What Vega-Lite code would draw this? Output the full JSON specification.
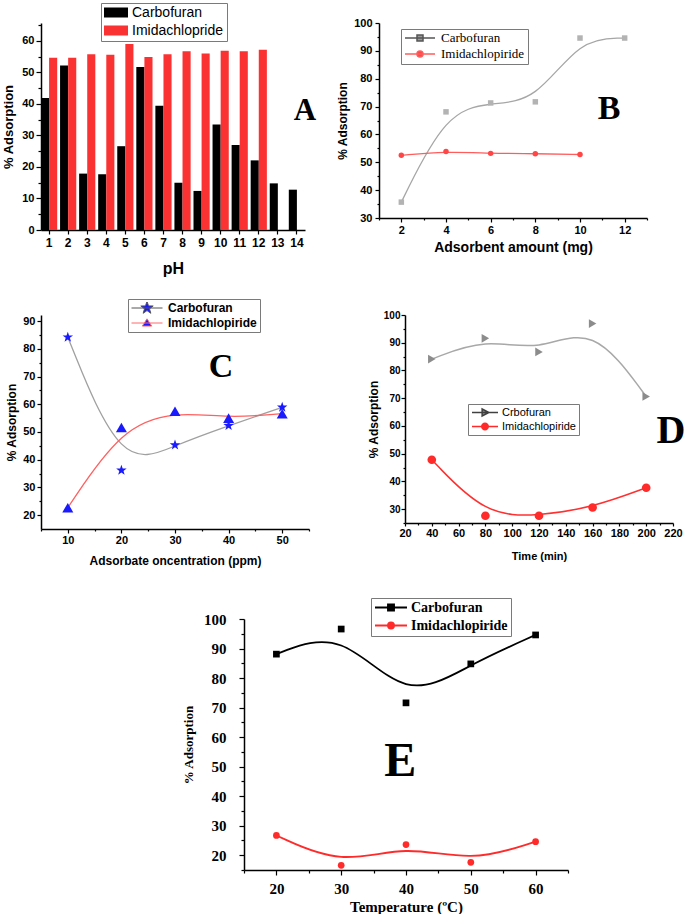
{
  "$schema": "https://vega.github.io/schema/vega-lite/v6.json",
  "background": "white",
  "padding": {"left": 2, "top": 2, "right": 0, "bottom": 0},
  "config": {
    "view": {"stroke": null},
    "font": "Liberation Sans",
    "axis": {"grid": false, "domainColor": "#000000", "domainWidth": 1.5, "tickColor": "#000000", "tickWidth": 1.2, "labelColor": "#000000", "titleColor": "#000000", "labelFont": "Liberation Sans", "titleFont": "Liberation Sans", "labelFontWeight": "bold", "titleFontWeight": "bold", "labelFlush": false, "labelOverlap": false},
    "legend": {"strokeColor": "#7a7a7a", "fillColor": "#ffffff", "padding": 3, "labelColor": "#000000", "labelLimit": 0}
  },
  "datasets": {
    "a": [
      {"pH": 1, "series": "Carbofuran", "value": 41.9}, {"pH": 1, "series": "Imidachlopride", "value": 54.7},
      {"pH": 2, "series": "Carbofuran", "value": 52.2}, {"pH": 2, "series": "Imidachlopride", "value": 54.7},
      {"pH": 3, "series": "Carbofuran", "value": 17.9}, {"pH": 3, "series": "Imidachlopride", "value": 55.8},
      {"pH": 4, "series": "Carbofuran", "value": 17.7}, {"pH": 4, "series": "Imidachlopride", "value": 55.6},
      {"pH": 5, "series": "Carbofuran", "value": 26.6}, {"pH": 5, "series": "Imidachlopride", "value": 59.0},
      {"pH": 6, "series": "Carbofuran", "value": 51.7}, {"pH": 6, "series": "Imidachlopride", "value": 54.9},
      {"pH": 7, "series": "Carbofuran", "value": 39.4}, {"pH": 7, "series": "Imidachlopride", "value": 55.8},
      {"pH": 8, "series": "Carbofuran", "value": 15.0}, {"pH": 8, "series": "Imidachlopride", "value": 56.7},
      {"pH": 9, "series": "Carbofuran", "value": 12.4}, {"pH": 9, "series": "Imidachlopride", "value": 56.0},
      {"pH": 10, "series": "Carbofuran", "value": 33.5}, {"pH": 10, "series": "Imidachlopride", "value": 56.9},
      {"pH": 11, "series": "Carbofuran", "value": 27.0}, {"pH": 11, "series": "Imidachlopride", "value": 56.7},
      {"pH": 12, "series": "Carbofuran", "value": 22.1}, {"pH": 12, "series": "Imidachlopride", "value": 57.2},
      {"pH": 13, "series": "Carbofuran", "value": 14.8},
      {"pH": 14, "series": "Carbofuran", "value": 12.8}
    ],
    "b": [
      {"x": 2, "series": "Carbofuran", "y": 35.7}, {"x": 4, "series": "Carbofuran", "y": 68.1},
      {"x": 6, "series": "Carbofuran", "y": 71.3}, {"x": 8, "series": "Carbofuran", "y": 71.7},
      {"x": 10, "series": "Carbofuran", "y": 94.6}, {"x": 12, "series": "Carbofuran", "y": 94.6},
      {"x": 2, "series": "Imidachlopiride", "y": 52.5}, {"x": 4, "series": "Imidachlopiride", "y": 53.9},
      {"x": 6, "series": "Imidachlopiride", "y": 53.2}, {"x": 8, "series": "Imidachlopiride", "y": 53.1},
      {"x": 10, "series": "Imidachlopiride", "y": 52.8}
    ],
    "c": [
      {"x": 10, "series": "Carbofuran", "y": 84.2}, {"x": 20, "series": "Carbofuran", "y": 36.2},
      {"x": 30, "series": "Carbofuran", "y": 45.3}, {"x": 40, "series": "Carbofuran", "y": 52.3},
      {"x": 50, "series": "Carbofuran", "y": 58.9},
      {"x": 10, "series": "Imidachlopiride", "y": 22.7}, {"x": 20, "series": "Imidachlopiride", "y": 51.6},
      {"x": 30, "series": "Imidachlopiride", "y": 57.5}, {"x": 40, "series": "Imidachlopiride", "y": 55.0},
      {"x": 50, "series": "Imidachlopiride", "y": 56.6}
    ],
    "d": [
      {"x": 40, "series": "Crbofuran", "y": 84.1}, {"x": 80, "series": "Crbofuran", "y": 91.6},
      {"x": 120, "series": "Crbofuran", "y": 86.7}, {"x": 160, "series": "Crbofuran", "y": 96.9},
      {"x": 200, "series": "Crbofuran", "y": 70.6},
      {"x": 40, "series": "Imidachlopiride", "y": 47.8}, {"x": 80, "series": "Imidachlopiride", "y": 27.6},
      {"x": 120, "series": "Imidachlopiride", "y": 27.6}, {"x": 160, "series": "Imidachlopiride", "y": 30.6},
      {"x": 200, "series": "Imidachlopiride", "y": 37.7}
    ],
    "e": [
      {"x": 20, "series": "Carbofuran", "y": 88.1}, {"x": 30, "series": "Carbofuran", "y": 96.6},
      {"x": 40, "series": "Carbofuran", "y": 71.6}, {"x": 50, "series": "Carbofuran", "y": 84.8},
      {"x": 60, "series": "Carbofuran", "y": 94.6},
      {"x": 20, "series": "Imidachlopiride", "y": 26.7}, {"x": 30, "series": "Imidachlopiride", "y": 16.6},
      {"x": 40, "series": "Imidachlopiride", "y": 23.6}, {"x": 50, "series": "Imidachlopiride", "y": 17.6},
      {"x": 60, "series": "Imidachlopiride", "y": 24.6}
    ]
  },
  "spacing": 22,
  "resolve": {"scale": {"color": "independent", "fill": "independent", "stroke": "independent", "shape": "independent"}},
  "vconcat": [
    {
      "spacing": 74,
      "bounds": "flush",
      "resolve": {"scale": {"color": "independent", "fill": "independent", "stroke": "independent", "shape": "independent"}},
      "hconcat": [
        {
          "width": 264,
          "height": 207,
          "layer": [
            {
              "data": {"name": "a"},
              "mark": {"type": "bar"},
              "encoding": {
                "x": {"field": "pH", "type": "ordinal", "scale": {"paddingInner": 0.15, "paddingOuter": 0},
                  "axis": {"title": "pH", "labelAngle": 0, "labelFontSize": 12, "titleFontSize": 16, "tickSize": 4, "labelPadding": 3, "titlePadding": 12, "labelOverlap": false}},
                "xOffset": {"field": "series", "type": "nominal", "scale": {"domain": ["Carbofuran", "Imidachlopride"]}},
                "y": {"field": "value", "type": "quantitative", "scale": {"domain": [0, 65.7], "nice": false},
                  "axis": {"title": "% Adsorption", "values": [0, 5, 10, 15, 20, 25, 30, 35, 40, 45, 50, 55, 60, 65], "tickCount": 100, "format": "d",
                    "labelExpr": "datum.value % 10 === 0 ? datum.label : ''", "labelOverlap": false,
                    "tickSize": {"condition": {"test": "datum.value % 10 !== 0", "value": 3}, "value": 5},
                    "labelFontSize": 11, "titleFontSize": 13, "labelPadding": 2, "titlePadding": 6}},
                "color": {"field": "series", "type": "nominal",
                  "scale": {"domain": ["Carbofuran", "Imidachlopride"], "range": ["#000000", "#fb3232"]},
                  "legend": {"orient": "none", "legendX": 60, "legendY": -20, "title": null,
                    "symbolType": "M-1,-0.42H1V0.42H-1Z", "symbolSize": 576, "symbolStrokeWidth": 0,
                    "labelFont": "Liberation Sans", "labelFontSize": 14, "labelFontWeight": "normal",
                    "clipHeight": 13, "rowPadding": 3, "labelOffset": 4, "padding": 3}}
              }
            },
            {
              "data": {"values": [{}]},
              "mark": {"type": "text", "font": "Liberation Serif", "fontWeight": "bold", "fontSize": 31, "dx": 8, "baseline": "middle", "align": "center"},
              "encoding": {"x": {"datum": 14, "type": "ordinal"}, "y": {"datum": 37.8, "type": "quantitative"}, "text": {"value": "A"}}
            }
          ]
        },
        {
          "width": 268,
          "height": 195,
          "resolve": {"scale": {"fill": "independent", "stroke": "independent", "shape": "independent"}},
          "layer": [
            {
              "data": {"name": "b"},
              "mark": {"type": "line", "interpolate": "basis", "strokeWidth": 1.3},
              "encoding": {
                "x": {"field": "x", "type": "quantitative", "scale": {"domain": [1, 13], "nice": false},
                  "axis": {"title": "Adsorbent amount (mg)", "values": [1, 2, 3, 4, 5, 6, 7, 8, 9, 10, 11, 12, 13], "tickCount": 100, "format": "d",
                    "labelExpr": "datum.value % 2 === 0 ? datum.label : ''", "labelOverlap": false,
                    "tickSize": {"condition": {"test": "datum.value % 2 !== 0", "value": 2}, "value": 4},
                    "labelFontSize": 11, "titleFontSize": 14, "labelPadding": 2, "titlePadding": 5}},
                "y": {"field": "y", "type": "quantitative", "scale": {"domain": [30, 100], "nice": false},
                  "axis": {"title": "% Adsorption", "values": [30, 35, 40, 45, 50, 55, 60, 65, 70, 75, 80, 85, 90, 95, 100], "tickCount": 100, "format": "d",
                    "labelExpr": "datum.value % 10 === 0 ? datum.label : ''", "labelOverlap": false,
                    "tickSize": {"condition": {"test": "datum.value % 10 !== 0", "value": 2}, "value": 4},
                    "labelFontSize": 11, "titleFontSize": 12, "labelPadding": 3, "titlePadding": 4}},
                "stroke": {"field": "series", "type": "nominal",
                  "scale": {"domain": ["Carbofuran", "Imidachlopiride"], "range": ["#a6a6a6", "#ff5c5c"]}, "legend": null}
              }
            },
            {
              "data": {"name": "b"},
              "mark": {"type": "point", "filled": true, "opacity": 1, "size": 30},
              "encoding": {
                "x": {"field": "x", "type": "quantitative"},
                "y": {"field": "y", "type": "quantitative"},
                "fill": {"field": "series", "type": "nominal", "scale": {"domain": ["Carbofuran", "Imidachlopiride"], "range": ["#b3b3b3", "#ff4545"]}, "legend": null},
                "shape": {"field": "series", "type": "nominal", "scale": {"domain": ["Carbofuran", "Imidachlopiride"], "range": ["square", "circle"]}, "legend": null}
              }
            },
            {
              "data": {"name": "b"},
              "transform": [{"filter": "false"}],
              "mark": {"type": "point", "filled": true, "opacity": 1},
              "encoding": {
                "shape": {"field": "series", "type": "nominal",
                  "scale": {"domain": ["Carbofuran", "Imidachlopiride"], "range": ["M-1,0H1M-0.2,-0.2H0.2V0.2H-0.2Z", "M-1,0H1M-0.2,0A0.2,0.2,0,1,1,0.2,0A0.2,0.2,0,1,1,-0.2,0Z"]},
                  "legend": {"orient": "none", "legendX": 22, "legendY": 6, "title": null, "symbolSize": 900, "symbolStrokeWidth": 1.5, "symbolOpacity": 1,
                    "labelFont": "Liberation Serif", "labelFontSize": 13, "labelFontWeight": "normal", "clipHeight": 12, "rowPadding": 3, "labelOffset": 5, "padding": 3}},
                "fill": {"field": "series", "type": "nominal",
                  "scale": {"domain": ["Carbofuran", "Imidachlopiride"], "range": ["#9a9a9a", "#ff4545"]},
                  "legend": {"orient": "none", "legendX": 22, "legendY": 6, "title": null, "symbolSize": 900, "symbolStrokeWidth": 1.5, "symbolOpacity": 1,
                    "labelFont": "Liberation Serif", "labelFontSize": 13, "labelFontWeight": "normal", "clipHeight": 12, "rowPadding": 3, "labelOffset": 5, "padding": 3}},
                "stroke": {"field": "series", "type": "nominal",
                  "scale": {"domain": ["Carbofuran", "Imidachlopiride"], "range": ["#555555", "#ff5c5c"]},
                  "legend": {"orient": "none", "legendX": 22, "legendY": 6, "title": null, "symbolSize": 900, "symbolStrokeWidth": 1.5, "symbolOpacity": 1,
                    "labelFont": "Liberation Serif", "labelFontSize": 13, "labelFontWeight": "normal", "clipHeight": 12, "rowPadding": 3, "labelOffset": 5, "padding": 3}}
              }
            },
            {
              "data": {"values": [{}]},
              "mark": {"type": "text", "font": "Liberation Serif", "fontWeight": "bold", "fontSize": 34, "baseline": "middle", "align": "center"},
              "encoding": {"x": {"datum": 11.3, "type": "quantitative"}, "y": {"datum": 69, "type": "quantitative"}, "text": {"value": "B"}}
            }
          ]
        }
      ]
    },
    {
      "spacing": 30,
      "resolve": {"scale": {"color": "independent", "fill": "independent", "stroke": "independent", "shape": "independent"}},
      "vconcat": [
        {
          "spacing": 96,
          "bounds": "flush",
          "resolve": {"scale": {"color": "independent", "fill": "independent", "stroke": "independent", "shape": "independent"}},
          "hconcat": [
            {
              "width": 268,
              "height": 214,
              "resolve": {"scale": {"fill": "independent", "stroke": "independent", "shape": "independent"}},
              "layer": [
                {
                  "data": {"name": "c"},
                  "mark": {"type": "line", "interpolate": "basis", "strokeWidth": 1.3},
                  "encoding": {
                    "x": {"field": "x", "type": "quantitative", "scale": {"domain": [5, 55], "nice": false},
                      "axis": {"title": "Adsorbate oncentration (ppm)", "values": [5, 10, 15, 20, 25, 30, 35, 40, 45, 50, 55], "tickCount": 100, "format": "d",
                        "labelExpr": "datum.value % 10 === 0 ? datum.label : ''", "labelOverlap": false,
                        "tickSize": {"condition": {"test": "datum.value % 10 !== 0", "value": 2}, "value": 4},
                        "labelFontSize": 11, "titleFontSize": 12, "labelPadding": 1.5, "titlePadding": 10}},
                    "y": {"field": "y", "type": "quantitative", "scale": {"domain": [15, 92.2], "nice": false},
                      "axis": {"title": "% Adsorption", "values": [20, 25, 30, 35, 40, 45, 50, 55, 60, 65, 70, 75, 80, 85, 90], "tickCount": 100, "format": "d",
                        "labelExpr": "datum.value % 10 === 0 ? datum.label : ''", "labelOverlap": false,
                        "tickSize": {"condition": {"test": "datum.value % 10 !== 0", "value": 2}, "value": 4},
                        "labelFontSize": 11, "titleFontSize": 12, "labelPadding": 2, "titlePadding": 4}},
                    "stroke": {"field": "series", "type": "nominal",
                      "scale": {"domain": ["Carbofuran", "Imidachlopiride"], "range": ["#a0a0a0", "#ff6060"]}, "legend": null}
                  }
                },
                {
                  "data": {"name": "c"},
                  "mark": {"type": "point", "filled": true, "opacity": 1, "size": 121, "color": "#1a1aff"},
                  "encoding": {
                    "x": {"field": "x", "type": "quantitative"},
                    "y": {"field": "y", "type": "quantitative"},
                    "shape": {"field": "series", "type": "nominal", "scale": {"domain": ["Carbofuran", "Imidachlopiride"], "range": ["M0,-1L0.235,-0.324L0.951,-0.309L0.38,0.124L0.588,0.809L0,0.4L-0.588,0.809L-0.38,0.124L-0.951,-0.309L-0.235,-0.324Z", "triangle-up"]}, "legend": null}
                  }
                },
                {
                  "data": {"name": "c"},
                  "transform": [{"filter": "false"}],
                  "mark": {"type": "point", "filled": true, "opacity": 1},
                  "encoding": {
                    "shape": {"field": "series", "type": "nominal",
                      "scale": {"domain": ["Carbofuran", "Imidachlopiride"], "range": ["M-1,0H1M0,-0.42L0.099,-0.136L0.399,-0.13L0.16,0.052L0.247,0.34L0,0.168L-0.247,0.34L-0.16,0.052L-0.399,-0.13L-0.099,-0.136Z", "M-1,0H1M0,-0.27L0.3,0.2L-0.3,0.2Z"]},
                      "legend": {"orient": "none", "legendX": 87, "legendY": -16, "title": null, "symbolSize": 961, "symbolStrokeWidth": 1, "symbolOpacity": 1,
                        "labelFont": "Liberation Sans", "labelFontSize": 12, "labelFontWeight": "bold", "clipHeight": 12, "rowPadding": 3, "labelOffset": 5, "padding": 3}},
                    "fill": {"field": "series", "type": "nominal",
                      "scale": {"domain": ["Carbofuran", "Imidachlopiride"], "range": ["#1a1aff", "#1a1aff"]},
                      "legend": {"orient": "none", "legendX": 87, "legendY": -16, "title": null, "symbolSize": 961, "symbolStrokeWidth": 1, "symbolOpacity": 1,
                        "labelFont": "Liberation Sans", "labelFontSize": 12, "labelFontWeight": "bold", "clipHeight": 12, "rowPadding": 3, "labelOffset": 5, "padding": 3}},
                    "stroke": {"field": "series", "type": "nominal",
                      "scale": {"domain": ["Carbofuran", "Imidachlopiride"], "range": ["#555555", "#ff6a6a"]},
                      "legend": {"orient": "none", "legendX": 87, "legendY": -16, "title": null, "symbolSize": 961, "symbolStrokeWidth": 1, "symbolOpacity": 1,
                        "labelFont": "Liberation Sans", "labelFontSize": 12, "labelFontWeight": "bold", "clipHeight": 12, "rowPadding": 3, "labelOffset": 5, "padding": 3}}
                  }
                },
                {
                  "data": {"values": [{}]},
                  "mark": {"type": "text", "font": "Liberation Serif", "fontWeight": "bold", "fontSize": 34, "baseline": "middle", "align": "center"},
                  "encoding": {"x": {"datum": 38.6, "type": "quantitative"}, "y": {"datum": 73.6, "type": "quantitative"}, "text": {"value": "C"}}
                }
              ]
            },
            {
              "width": 268,
              "height": 208,
              "resolve": {"scale": {"fill": "independent", "stroke": "independent", "shape": "independent"}},
              "layer": [
                {
                  "data": {"name": "d"},
                  "mark": {"type": "line", "interpolate": "basis", "strokeWidth": 1.5},
                  "encoding": {
                    "x": {"field": "x", "type": "quantitative", "scale": {"domain": [20, 220], "nice": false},
                      "axis": {"title": "Time (min)", "values": [20, 30, 40, 50, 60, 70, 80, 90, 100, 110, 120, 130, 140, 150, 160, 170, 180, 190, 200, 210, 220], "tickCount": 100, "format": "d",
                        "labelExpr": "datum.value % 20 === 0 ? datum.label : ''", "labelOverlap": false,
                        "tickSize": {"condition": {"test": "datum.value % 20 !== 0", "value": 2}, "value": 3},
                        "labelFontSize": 11, "titleFontSize": 11, "labelPadding": 1, "titlePadding": 12}},
                    "y": {"field": "y", "type": "quantitative", "scale": {"domain": [25, 100], "nice": false},
                      "axis": {"title": "% Adsorption", "values": [25, 30, 35, 40, 45, 50, 55, 60, 65, 70, 75, 80, 85, 90, 95, 100], "tickCount": 100, "format": "d",
                        "labelExpr": "datum.value % 10 === 0 ? datum.label : ''", "labelOverlap": false,
                        "tickSize": {"condition": {"test": "datum.value % 10 !== 0", "value": 2}, "value": 4},
                        "labelFontSize": 10, "titleFontSize": 12, "labelPadding": 1, "titlePadding": 3}},
                    "stroke": {"field": "series", "type": "nominal",
                      "scale": {"domain": ["Crbofuran", "Imidachlopiride"], "range": ["#a8a8a8", "#ff3030"]}, "legend": null}
                  }
                },
                {
                  "data": {"name": "d"},
                  "mark": {"type": "point", "filled": true, "opacity": 1, "size": 75},
                  "encoding": {
                    "x": {"field": "x", "type": "quantitative"},
                    "y": {"field": "y", "type": "quantitative"},
                    "fill": {"field": "series", "type": "nominal", "scale": {"domain": ["Crbofuran", "Imidachlopiride"], "range": ["#8c8c8c", "#ff2a2a"]}, "legend": null},
                    "shape": {"field": "series", "type": "nominal", "scale": {"domain": ["Crbofuran", "Imidachlopiride"], "range": ["triangle-right", "circle"]}, "legend": null}
                  }
                },
                {
                  "data": {"name": "d"},
                  "transform": [{"filter": "false"}],
                  "mark": {"type": "point", "filled": true, "opacity": 1},
                  "encoding": {
                    "shape": {"field": "series", "type": "nominal",
                      "scale": {"domain": ["Crbofuran", "Imidachlopiride"], "range": ["M-1,0H1M-0.22,-0.27L0.3,0L-0.22,0.27Z", "M-1,0H1M-0.25,0A0.25,0.25,0,1,1,0.25,0A0.25,0.25,0,1,1,-0.25,0Z"]},
                      "legend": {"orient": "none", "legendX": 63, "legendY": 89, "title": null, "symbolSize": 676, "symbolStrokeWidth": 1.5, "symbolOpacity": 1,
                        "labelFont": "Liberation Sans", "labelFontSize": 11, "labelFontWeight": "normal", "clipHeight": 11, "rowPadding": 2, "labelOffset": 3, "padding": 3}},
                    "fill": {"field": "series", "type": "nominal",
                      "scale": {"domain": ["Crbofuran", "Imidachlopiride"], "range": ["#8c8c8c", "#ff2a2a"]},
                      "legend": {"orient": "none", "legendX": 63, "legendY": 89, "title": null, "symbolSize": 676, "symbolStrokeWidth": 1.5, "symbolOpacity": 1,
                        "labelFont": "Liberation Sans", "labelFontSize": 11, "labelFontWeight": "normal", "clipHeight": 11, "rowPadding": 2, "labelOffset": 3, "padding": 3}},
                    "stroke": {"field": "series", "type": "nominal",
                      "scale": {"domain": ["Crbofuran", "Imidachlopiride"], "range": ["#404040", "#ff2a2a"]},
                      "legend": {"orient": "none", "legendX": 63, "legendY": 89, "title": null, "symbolSize": 676, "symbolStrokeWidth": 1.5, "symbolOpacity": 1,
                        "labelFont": "Liberation Sans", "labelFontSize": 11, "labelFontWeight": "normal", "clipHeight": 11, "rowPadding": 2, "labelOffset": 3, "padding": 3}}
                  }
                },
                {
                  "data": {"values": [{}]},
                  "mark": {"type": "text", "font": "Liberation Serif", "fontWeight": "bold", "fontSize": 40, "baseline": "middle", "align": "center"},
                  "encoding": {"x": {"datum": 218.5, "type": "quantitative"}, "y": {"datum": 58, "type": "quantitative"}, "text": {"value": "D"}}
                }
              ]
            }
          ]
        },
        {
          "spacing": 0,
          "bounds": "flush",
          "resolve": {"scale": {"color": "independent", "fill": "independent", "stroke": "independent", "shape": "independent"}},
          "hconcat": [
            {
              "width": 203,
              "height": 10,
              "view": {"fill": "#ffffff", "stroke": null},
              "data": {"values": [{}]},
              "mark": {"type": "point", "opacity": 0},
              "encoding": {}
            },
            {
              "width": 324,
              "height": 251,
              "resolve": {"scale": {"fill": "independent", "stroke": "independent", "shape": "independent"}},
              "layer": [
                {
                  "data": {"name": "e"},
                  "mark": {"type": "line", "interpolate": "basis", "strokeWidth": 1.8},
                  "encoding": {
                    "x": {"field": "x", "type": "quantitative", "scale": {"domain": [15, 65], "nice": false},
                      "axis": {"title": "Temperature (ºC)", "values": [15, 20, 25, 30, 35, 40, 45, 50, 55, 60, 65], "tickCount": 100, "format": "d",
                        "labelExpr": "datum.value % 10 === 0 ? datum.label : ''", "labelOverlap": false,
                        "tickSize": {"condition": {"test": "datum.value % 10 !== 0", "value": 3}, "value": 5},
                        "labelFont": "Liberation Serif", "titleFont": "Liberation Serif",
                        "labelFontSize": 15, "titleFontSize": 15, "labelPadding": 6, "titlePadding": 3}},
                    "y": {"field": "y", "type": "quantitative", "scale": {"domain": [15, 100], "nice": false},
                      "axis": {"title": "% Adsorption", "values": [15, 20, 25, 30, 35, 40, 45, 50, 55, 60, 65, 70, 75, 80, 85, 90, 95, 100], "tickCount": 100, "format": "d",
                        "labelExpr": "datum.value % 10 === 0 ? datum.label : ''", "labelOverlap": false,
                        "tickSize": {"condition": {"test": "datum.value % 10 !== 0", "value": 3}, "value": 5},
                        "labelFont": "Liberation Serif", "titleFont": "Liberation Serif",
                        "labelFontSize": 15, "titleFontSize": 13, "labelPadding": 13, "titlePadding": 8}},
                    "stroke": {"field": "series", "type": "nominal",
                      "scale": {"domain": ["Carbofuran", "Imidachlopiride"], "range": ["#000000", "#ff2a2a"]}, "legend": null}
                  }
                },
                {
                  "data": {"name": "e"},
                  "mark": {"type": "point", "filled": true, "opacity": 1, "size": 45},
                  "encoding": {
                    "x": {"field": "x", "type": "quantitative"},
                    "y": {"field": "y", "type": "quantitative"},
                    "fill": {"field": "series", "type": "nominal", "scale": {"domain": ["Carbofuran", "Imidachlopiride"], "range": ["#000000", "#ff2a2a"]}, "legend": null},
                    "shape": {"field": "series", "type": "nominal", "scale": {"domain": ["Carbofuran", "Imidachlopiride"], "range": ["square", "circle"]}, "legend": null}
                  }
                },
                {
                  "data": {"name": "e"},
                  "transform": [{"filter": "false"}],
                  "mark": {"type": "point", "filled": true, "opacity": 1},
                  "encoding": {
                    "shape": {"field": "series", "type": "nominal",
                      "scale": {"domain": ["Carbofuran", "Imidachlopiride"], "range": ["M-1,0H1M-0.19,-0.19H0.19V0.19H-0.19Z", "M-1,0H1M-0.19,0A0.19,0.19,0,1,1,0.19,0A0.19,0.19,0,1,1,-0.19,0Z"]},
                      "legend": {"orient": "none", "legendX": 127, "legendY": -21, "title": null, "symbolSize": 1024, "symbolStrokeWidth": 1.8, "symbolOpacity": 1,
                        "labelFont": "Liberation Serif", "labelFontSize": 14, "labelFontWeight": "bold", "clipHeight": 13, "rowPadding": 3, "labelOffset": 3, "padding": 3}},
                    "fill": {"field": "series", "type": "nominal",
                      "scale": {"domain": ["Carbofuran", "Imidachlopiride"], "range": ["#000000", "#ff2a2a"]},
                      "legend": {"orient": "none", "legendX": 127, "legendY": -21, "title": null, "symbolSize": 1024, "symbolStrokeWidth": 1.8, "symbolOpacity": 1,
                        "labelFont": "Liberation Serif", "labelFontSize": 14, "labelFontWeight": "bold", "clipHeight": 13, "rowPadding": 3, "labelOffset": 3, "padding": 3}},
                    "stroke": {"field": "series", "type": "nominal",
                      "scale": {"domain": ["Carbofuran", "Imidachlopiride"], "range": ["#000000", "#ff2a2a"]},
                      "legend": {"orient": "none", "legendX": 127, "legendY": -21, "title": null, "symbolSize": 1024, "symbolStrokeWidth": 1.8, "symbolOpacity": 1,
                        "labelFont": "Liberation Serif", "labelFontSize": 14, "labelFontWeight": "bold", "clipHeight": 13, "rowPadding": 3, "labelOffset": 3, "padding": 3}}
                  }
                },
                {
                  "data": {"values": [{}]},
                  "mark": {"type": "text", "font": "Liberation Serif", "fontWeight": "bold", "fontSize": 48, "baseline": "middle", "align": "center"},
                  "encoding": {"x": {"datum": 39.1, "type": "quantitative"}, "y": {"datum": 51.6, "type": "quantitative"}, "text": {"value": "E"}}
                }
              ]
            }
          ]
        }
      ]
    }
  ]
}
